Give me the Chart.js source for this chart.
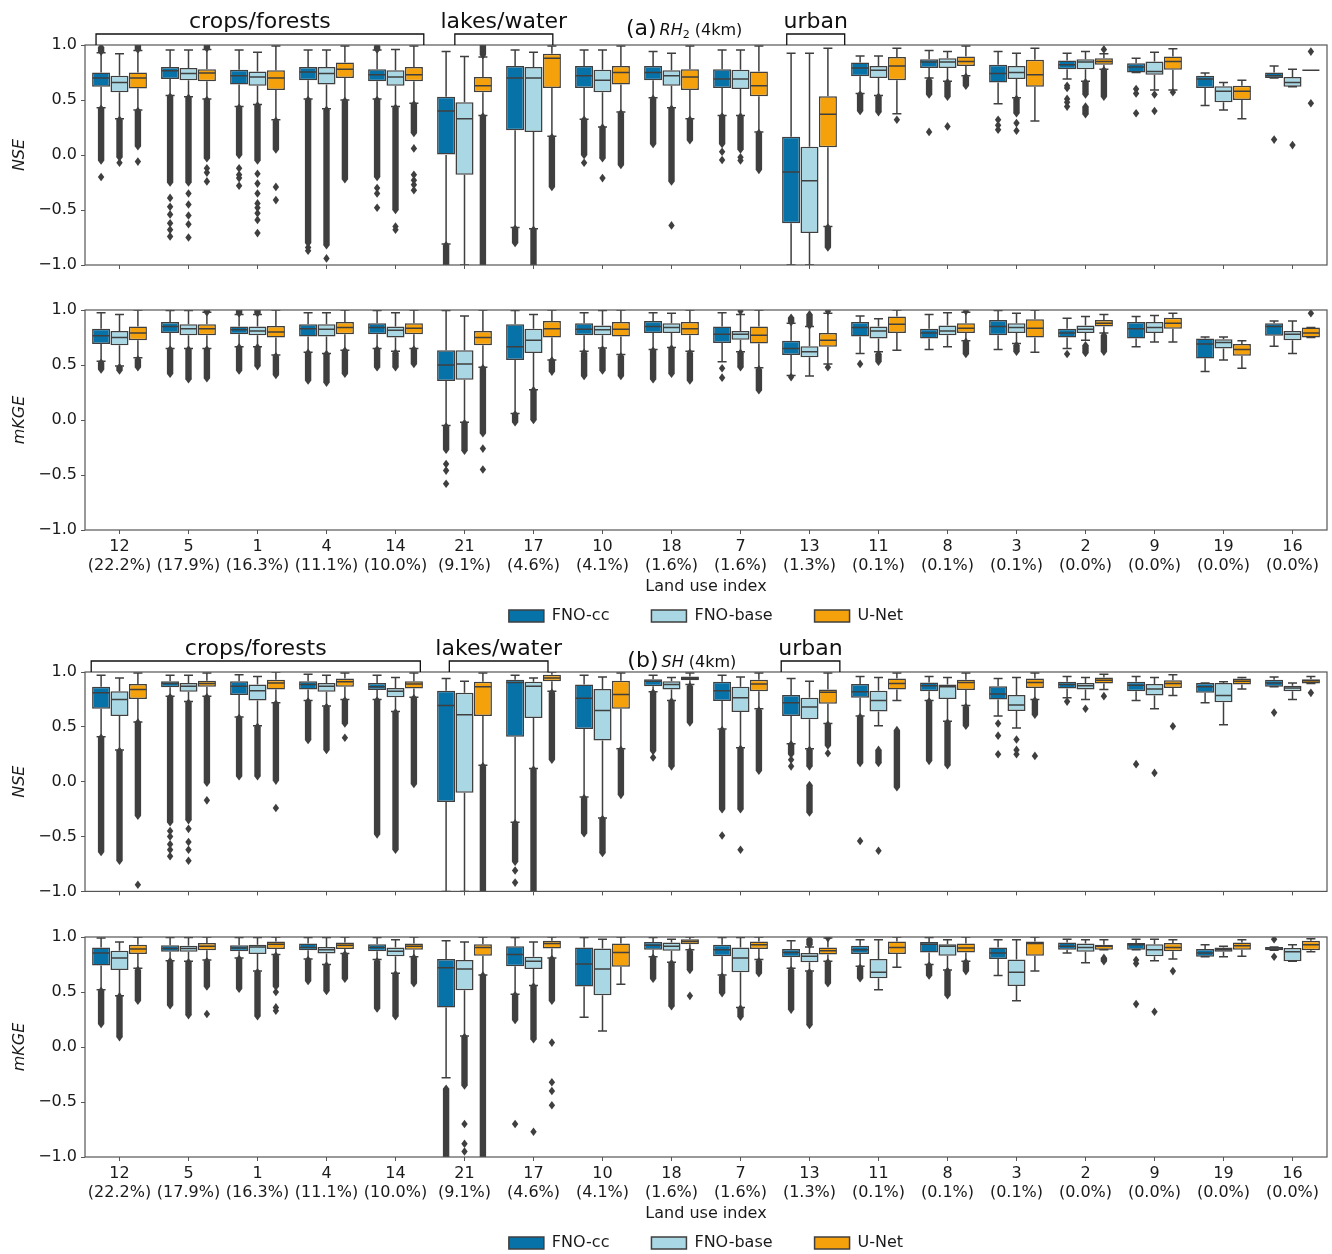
<!DOCTYPE html>
<html lang="en">
<head>
<meta charset="UTF-8">
<title>NSE and mKGE per land use class</title>
<style>
  html, body { margin: 0; padding: 0; background: #fff; overflow: hidden; }
  canvas { position: absolute; left: 0; }
</style>
</head>
<body>
<canvas id="rhNse" width="1332" height="280" style="top:0px"></canvas>
<canvas id="rhKge" width="1332" height="364" style="top:280px"></canvas>
<canvas id="shNse" width="1332" height="280" style="top:625px"></canvas>
<canvas id="shKge" width="1332" height="366" style="top:905px"></canvas>

<script src="https://cdn.jsdelivr.net/npm/chart.js"></script>
<script>
// land use classes, sorted by share of the domain
const landUse = ['12', '5', '1', '4', '14', '21', '17', '10', '18', '7', '13', '11', '8', '3', '2', '9', '19', '16'];
const landShare = ['22.2%', '17.9%', '16.3%', '11.1%', '10.0%', '9.1%', '4.6%', '4.1%', '1.6%', '1.6%', '1.3%', '0.1%', '0.1%', '0.1%', '0.0%', '0.0%', '0.0%', '0.0%'];
const models = ['FNO-cc', 'FNO-base', 'U-Net'];
const yTicks = [-1, -0.5, 0, 0.5, 1];

// box stats per class: [lower whisker, q1, median, q3, upper whisker]
// fliers per class: single values are one marker, [lo, hi] pairs are a dense run of markers

// (a) RH2, NSE
const rhNseCc = [
  [0.43, 0.62, 0.70, 0.75, 0.93], [0.54, 0.69, 0.765, 0.80, 0.955], [0.44, 0.64, 0.72, 0.775, 0.955],
  [0.51, 0.68, 0.755, 0.80, 0.955], [0.51, 0.67, 0.73, 0.78, 0.955], [-0.81, 0.0, 0.40, 0.53, 0.94],
  [-0.66, 0.225, 0.70, 0.81, 0.955], [0.325, 0.61, 0.72, 0.81, 0.955], [0.52, 0.68, 0.75, 0.81, 0.94],
  [0.36, 0.61, 0.69, 0.78, 0.955], [-1.0, -0.62, -0.155, 0.165, 0.925], [0.56, 0.715, 0.79, 0.84, 0.90],
  [0.70, 0.79, 0.845, 0.87, 0.95], [0.465, 0.66, 0.74, 0.82, 0.94], [0.69, 0.78, 0.82, 0.86, 0.925],
  [0.75, 0.75, 0.80, 0.835, 0.88], [0.45, 0.61, 0.69, 0.72, 0.745], [0.70, 0.70, 0.72, 0.75, 0.81]
];
const rhNseCcOut = [
  [[-0.05, 0.42], -0.2, [0.94, 0.98]], [[-0.25, 0.53], -0.39, -0.47, -0.54, -0.62, -0.68, -0.74],
  [[0.0, 0.43], -0.12, -0.18, -0.21, -0.28], [[-0.8, 0.50], -0.84, -0.87],
  [[-0.2, 0.50], -0.30, -0.35, -0.48, [0.96, 0.99]], [[-1.0, -0.82]], [[-0.80, -0.67]],
  [[0.0, 0.32], -0.07], [[0.1, 0.51]], [[0.10, 0.35], 0.03, -0.045], [], [[0.40, 0.55]],
  [[0.55, 0.68], 0.21], [0.32, 0.27, 0.23], [0.63, 0.61, 0.51, 0.48, 0.44], [0.60, 0.56, 0.38], [], [0.14]
];
const rhNseBase = [
  [0.33, 0.57, 0.66, 0.72, 0.92], [0.53, 0.68, 0.74, 0.79, 0.955], [0.46, 0.63, 0.71, 0.76, 0.935],
  [0.42, 0.64, 0.74, 0.80, 0.955], [0.44, 0.63, 0.71, 0.77, 0.96], [-1.0, -0.18, 0.33, 0.48, 0.895],
  [-0.67, 0.21, 0.70, 0.80, 0.935], [0.255, 0.57, 0.68, 0.775, 0.955], [0.43, 0.63, 0.72, 0.77, 0.925],
  [0.36, 0.60, 0.69, 0.775, 0.955], [-1.0, -0.71, -0.235, 0.075, 0.925], [0.54, 0.70, 0.77, 0.81, 0.90],
  [0.67, 0.79, 0.845, 0.88, 0.94], [0.52, 0.69, 0.75, 0.81, 0.925], [0.67, 0.78, 0.845, 0.87, 0.94],
  [0.59, 0.73, 0.76, 0.85, 0.935], [0.41, 0.48, 0.58, 0.625, 0.66], [0.62, 0.62, 0.66, 0.71, 0.78]
];
const rhNseBaseOut = [
  [[-0.02, 0.32], -0.07], [[-0.25, 0.52], -0.35, -0.45, -0.55, -0.63, -0.75],
  [[-0.05, 0.45], -0.17, -0.26, -0.35, -0.44, -0.48, -0.53, -0.59, -0.71], [[-0.82, 0.41], -0.94],
  [[-0.50, 0.43], -0.65, -0.68], [], [[-1.0, -0.68]], [[-0.03, 0.25], -0.21], [[-0.24, 0.42], -0.64],
  [[0.05, 0.35], -0.02, -0.05], [], [[0.39, 0.53]], [[0.53, 0.66], 0.26], [[0.38, 0.51], 0.29, 0.22],
  [[0.55, 0.66], [0.37, 0.44]], [0.55, 0.40], [], [0.09]
];
const rhNseUnet = [
  [0.41, 0.605, 0.70, 0.75, 0.95], [0.51, 0.67, 0.745, 0.78, 0.96], [0.32, 0.59, 0.70, 0.77, 0.99],
  [0.50, 0.70, 0.78, 0.84, 0.99], [0.47, 0.67, 0.73, 0.80, 0.99], [0.36, 0.57, 0.63, 0.71, 0.89],
  [0.17, 0.61, 0.88, 0.92, 0.99], [0.39, 0.64, 0.75, 0.81, 0.99], [0.33, 0.59, 0.71, 0.78, 0.99],
  [0.21, 0.535, 0.63, 0.76, 0.99], [-0.65, 0.07, 0.37, 0.535, 0.97], [0.375, 0.68, 0.81, 0.89, 0.97],
  [0.72, 0.81, 0.85, 0.895, 0.99], [0.31, 0.62, 0.73, 0.865, 0.97], [0.78, 0.82, 0.85, 0.88, 0.92],
  [0.59, 0.775, 0.85, 0.895, 0.965], [0.33, 0.50, 0.58, 0.63, 0.68], [0.77, 0.77, 0.77, 0.77, 0.77]
];
const rhNseUnetOut = [
  [[0.08, 0.40], -0.06, [0.96, 1.0]], [[-0.03, 0.50], -0.12, -0.16, -0.24, [0.97, 1.0]],
  [[0.05, 0.31], -0.29, -0.41], [[-0.22, 0.49]], [[0.2, 0.46], 0.06, -0.18, -0.23, -0.27, -0.32],
  [[-1.0, 0.35], [0.91, 1.0]], [[-0.29, 0.16]], [[-0.09, 0.38]], [[0.135, 0.32]], [[-0.135, 0.20]],
  [[-0.84, -0.66]], [0.32], [[0.63, 0.71]], [], [[0.53, 0.77], 0.96], [0.57], [], [0.94, 0.47]
];

// (a) RH2, mKGE
const rhKgeCc = [
  [0.535, 0.69, 0.765, 0.83, 0.975], [0.65, 0.79, 0.85, 0.89, 0.995], [0.665, 0.78, 0.82, 0.85, 0.96],
  [0.615, 0.76, 0.83, 0.87, 0.975], [0.65, 0.78, 0.84, 0.88, 0.995], [-0.05, 0.355, 0.50, 0.635, 0.995],
  [0.06, 0.545, 0.665, 0.87, 0.995], [0.625, 0.77, 0.825, 0.88, 0.975], [0.64, 0.79, 0.85, 0.90, 0.975],
  [0.53, 0.70, 0.78, 0.85, 0.975], [0.405, 0.59, 0.65, 0.72, 0.88], [0.605, 0.76, 0.84, 0.89, 0.945],
  [0.64, 0.74, 0.79, 0.83, 0.96], [0.64, 0.77, 0.85, 0.91, 0.995], [0.65, 0.75, 0.79, 0.83, 0.925],
  [0.665, 0.74, 0.83, 0.89, 0.94], [0.44, 0.56, 0.69, 0.74, 0.755], [0.67, 0.765, 0.85, 0.88, 0.90]
];
const rhKgeCcOut = [
  [[0.46, 0.52]], [[0.42, 0.64]], [[0.45, 0.66], [0.97, 1.0]], [[0.36, 0.61]], [[0.48, 0.64]],
  [[-0.27, -0.06], -0.40, -0.46, -0.58], [[-0.02, 0.05]], [[0.40, 0.61]], [[0.37, 0.63]], [0.47, 0.385],
  [0.39, [0.89, 0.93]], [0.51], [], [], [0.60], [], [], []
];
const rhKgeBase = [
  [0.49, 0.68, 0.75, 0.81, 0.96], [0.65, 0.77, 0.83, 0.87, 0.995], [0.665, 0.77, 0.81, 0.85, 0.96],
  [0.605, 0.76, 0.825, 0.87, 0.975], [0.625, 0.75, 0.815, 0.85, 0.975], [-0.02, 0.365, 0.51, 0.635, 0.945],
  [0.275, 0.61, 0.725, 0.83, 0.96], [0.655, 0.77, 0.82, 0.86, 0.995], [0.66, 0.79, 0.84, 0.88, 0.97],
  [0.62, 0.73, 0.78, 0.81, 0.96], [0.40, 0.57, 0.62, 0.67, 0.85], [0.62, 0.74, 0.81, 0.85, 0.92],
  [0.665, 0.77, 0.81, 0.86, 0.975], [0.695, 0.79, 0.84, 0.88, 0.97], [0.725, 0.79, 0.825, 0.86, 0.94],
  [0.71, 0.79, 0.84, 0.89, 0.95], [0.545, 0.65, 0.705, 0.735, 0.755], [0.605, 0.725, 0.78, 0.81, 0.90]
];
const rhKgeBaseOut = [
  [[0.45, 0.48]], [[0.37, 0.64]], [[0.49, 0.66], [0.97, 1.0]], [[0.34, 0.60]], [[0.48, 0.61]],
  [[-0.28, -0.03]], [[0.0, 0.27]], [[0.45, 0.64]], [[0.42, 0.65]], [[0.48, 0.61], 0.99], [[0.86, 0.96]],
  [[0.53, 0.60]], [], [[0.62, 0.68]], [[0.61, 0.68]], [], [], []
];
const rhKgeUnet = [
  [0.565, 0.725, 0.79, 0.85, 1.0], [0.65, 0.77, 0.83, 0.87, 0.98], [0.59, 0.75, 0.80, 0.855, 1.0],
  [0.635, 0.78, 0.84, 0.89, 1.0], [0.65, 0.78, 0.835, 0.88, 1.0], [0.48, 0.68, 0.75, 0.81, 1.0],
  [0.545, 0.75, 0.83, 0.90, 1.0], [0.595, 0.76, 0.825, 0.89, 1.0], [0.625, 0.77, 0.83, 0.89, 1.0],
  [0.475, 0.695, 0.77, 0.85, 1.0], [0.51, 0.665, 0.725, 0.79, 0.97], [0.635, 0.79, 0.87, 0.94, 1.0],
  [0.72, 0.79, 0.835, 0.88, 0.98], [0.615, 0.75, 0.835, 0.915, 1.0], [0.79, 0.85, 0.88, 0.91, 0.96],
  [0.71, 0.83, 0.88, 0.93, 0.97], [0.47, 0.585, 0.64, 0.69, 0.72], [0.75, 0.75, 0.79, 0.84, 0.84]
];
const rhKgeUnetOut = [
  [[0.48, 0.55]], [[0.38, 0.64], [0.98, 1.0]], [[0.41, 0.58]], [[0.42, 0.63]], [[0.51, 0.64]],
  [[-0.12, 0.47], -0.26, -0.45], [[0.44, 0.54]], [[0.40, 0.58]], [[0.36, 0.61]], [[0.27, 0.46]],
  [0.48, 0.99], [], [[0.60, 0.71], 0.99], [], [[0.62, 0.77]], [], [], [0.97]
];

// (b) SH, NSE
const shNseCc = [
  [0.41, 0.665, 0.81, 0.865, 0.97], [0.78, 0.86, 0.895, 0.915, 0.97], [0.59, 0.79, 0.87, 0.915, 0.975],
  [0.74, 0.84, 0.885, 0.915, 0.98], [0.75, 0.835, 0.865, 0.90, 0.97], [-1.0, -0.185, 0.695, 0.83, 0.94],
  [-0.37, 0.41, 0.905, 0.93, 0.97], [-0.14, 0.48, 0.76, 0.885, 0.97], [0.82, 0.87, 0.915, 0.935, 0.97],
  [0.48, 0.735, 0.83, 0.91, 0.97], [0.345, 0.60, 0.72, 0.79, 0.94], [0.60, 0.765, 0.82, 0.89, 0.96],
  [0.74, 0.825, 0.875, 0.905, 0.96], [0.60, 0.75, 0.80, 0.87, 0.94], [0.765, 0.85, 0.885, 0.91, 0.96],
  [0.74, 0.825, 0.88, 0.91, 0.96], [0.72, 0.81, 0.865, 0.90, 0.90], [0.865, 0.865, 0.90, 0.93, 0.955]
];
const shNseCcOut = [
  [[-0.64, 0.40]], [[-0.37, 0.77], -0.45, -0.50, -0.57, -0.62, -0.68], [[0.05, 0.58]], [[0.38, 0.73]],
  [[-0.48, 0.74]], [], [[-0.73, -0.38], -0.81, -0.92], [[-0.47, -0.15]], [[0.28, 0.81], 0.22],
  [[-0.25, 0.47], -0.49], [[0.25, 0.34], 0.20, 0.14], [[0.17, 0.59], -0.54], [[0.19, 0.73]],
  [0.53, 0.42, 0.25], [0.73], [0.16], [], [0.63]
];
const shNseBase = [
  [0.29, 0.60, 0.75, 0.825, 0.945], [0.73, 0.82, 0.87, 0.90, 0.97], [0.51, 0.74, 0.83, 0.885, 0.96],
  [0.69, 0.82, 0.87, 0.90, 0.97], [0.64, 0.77, 0.825, 0.855, 0.95], [-1.0, -0.10, 0.61, 0.81, 0.915],
  [0.12, 0.58, 0.87, 0.91, 0.945], [-0.33, 0.375, 0.65, 0.845, 0.955], [0.74, 0.84, 0.885, 0.915, 0.95],
  [0.31, 0.635, 0.765, 0.865, 0.955], [0.30, 0.57, 0.68, 0.765, 0.915], [0.51, 0.64, 0.74, 0.83, 0.95],
  [0.55, 0.755, 0.865, 0.885, 0.95], [0.49, 0.645, 0.70, 0.79, 0.95], [0.75, 0.84, 0.875, 0.90, 0.95],
  [0.665, 0.785, 0.845, 0.89, 0.95], [0.52, 0.725, 0.785, 0.90, 0.91], [0.75, 0.825, 0.855, 0.875, 0.90]
];
const shNseBaseOut = [
  [[-0.72, 0.28]], [[-0.35, 0.72], -0.43, -0.55, -0.62, -0.72], [[0.05, 0.50]], [[0.29, 0.68]],
  [[-0.62, 0.63]], [], [[-1.0, 0.11]], [[-0.65, -0.34]], [[0.14, 0.73]], [[-0.25, 0.30], -0.62],
  [[0.14, 0.29], [-0.28, -0.03]], [[0.17, 0.29], -0.63], [[0.15, 0.54]], [0.385, 0.29, 0.25],
  [0.665], [0.08], [], []
];
const shNseUnet = [
  [0.545, 0.755, 0.84, 0.89, 0.99], [0.78, 0.865, 0.895, 0.92, 0.99], [0.72, 0.84, 0.90, 0.93, 1.0],
  [0.75, 0.865, 0.91, 0.94, 0.99], [0.77, 0.85, 0.89, 0.915, 0.99], [0.15, 0.60, 0.865, 0.91, 0.99],
  [0.825, 0.915, 0.945, 0.975, 1.0], [0.30, 0.665, 0.795, 0.92, 0.99], [0.885, 0.925, 0.94, 0.96, 0.99],
  [0.665, 0.825, 0.89, 0.93, 0.99], [0.53, 0.71, 0.815, 0.84, 0.99], [0.74, 0.84, 0.895, 0.94, 0.99],
  [0.695, 0.835, 0.905, 0.93, 0.99], [0.75, 0.855, 0.905, 0.94, 0.99], [0.84, 0.895, 0.925, 0.95, 0.98],
  [0.785, 0.855, 0.895, 0.925, 0.975], [0.845, 0.885, 0.915, 0.94, 0.95], [0.895, 0.895, 0.92, 0.935, 0.96]
];
const shNseUnetOut = [
  [[-0.31, 0.54], -0.94], [[-0.01, 0.77], -0.17], [[0.01, 0.71], -0.24], [[0.53, 0.74], 0.40],
  [[-0.02, 0.76]], [[-1.0, 0.14]], [[0.20, 0.81]], [[-0.12, 0.29]], [[0.54, 0.87]], [[0.10, 0.65]],
  [[0.33, 0.52], 0.26], [[-0.05, 0.47]], [[0.51, 0.68]], [[0.61, 0.74], 0.235], [0.78], [0.505], [], [0.81]
];

// (b) SH, mKGE
const shKgeCc = [
  [0.52, 0.74, 0.855, 0.905, 0.99], [0.785, 0.865, 0.895, 0.925, 0.995], [0.81, 0.87, 0.90, 0.925, 0.995],
  [0.80, 0.88, 0.905, 0.94, 0.995], [0.795, 0.87, 0.905, 0.935, 0.995], [-0.28, 0.36, 0.72, 0.80, 0.965],
  [0.48, 0.735, 0.84, 0.915, 0.995], [0.27, 0.55, 0.755, 0.905, 0.995], [0.82, 0.885, 0.925, 0.955, 0.995],
  [0.655, 0.825, 0.885, 0.93, 0.995], [0.715, 0.815, 0.86, 0.89, 0.965], [0.735, 0.845, 0.885, 0.92, 0.975],
  [0.75, 0.86, 0.935, 0.955, 0.995], [0.65, 0.80, 0.855, 0.905, 0.975], [0.855, 0.885, 0.915, 0.95, 0.98],
  [0.885, 0.885, 0.93, 0.945, 0.98], [0.82, 0.82, 0.855, 0.89, 0.93], [0.88, 0.88, 0.90, 0.91, 0.91]
];
const shKgeCcOut = [
  [[0.21, 0.51]], [[0.38, 0.78]], [[0.53, 0.80]], [[0.60, 0.79]], [[0.35, 0.78]], [[-1.0, -0.38]],
  [[0.245, 0.47], -0.70], [], [[0.62, 0.81]], [[0.49, 0.64]], [[0.34, 0.70]], [[0.625, 0.72]],
  [[0.65, 0.74]], [], [], [0.79, 0.76, 0.39], [], [0.98, 0.82]
];
const shKgeBase = [
  [0.465, 0.70, 0.81, 0.875, 0.955], [0.78, 0.865, 0.895, 0.92, 0.995], [0.69, 0.845, 0.91, 0.93, 0.995],
  [0.75, 0.85, 0.885, 0.91, 0.995], [0.67, 0.825, 0.87, 0.905, 0.975], [0.10, 0.515, 0.71, 0.79, 0.955],
  [0.56, 0.71, 0.78, 0.82, 0.955], [0.145, 0.47, 0.71, 0.895, 0.98], [0.77, 0.875, 0.915, 0.95, 0.98],
  [0.36, 0.68, 0.81, 0.905, 0.995], [0.69, 0.77, 0.825, 0.855, 0.91], [0.52, 0.625, 0.68, 0.80, 0.975],
  [0.70, 0.83, 0.915, 0.935, 0.975], [0.42, 0.555, 0.68, 0.795, 0.975], [0.765, 0.865, 0.905, 0.94, 0.975],
  [0.785, 0.825, 0.885, 0.935, 0.98], [0.82, 0.865, 0.885, 0.905, 0.915], [0.78, 0.78, 0.865, 0.90, 0.93]
];
const shKgeBaseOut = [
  [[0.09, 0.46]], [[0.29, 0.77]], [[0.28, 0.68]], [[0.51, 0.74]], [[0.28, 0.66]],
  [[-0.35, 0.09], -0.70, -0.88, -0.95], [[0.07, 0.55], -0.77], [], [[0.37, 0.76]], [[0.275, 0.35]],
  [[0.20, 0.68], [0.93, 0.98]], [], [[0.47, 0.69]], [], [], [0.32], [], []
];
const shKgeUnet = [
  [0.715, 0.845, 0.89, 0.93, 1.0], [0.79, 0.88, 0.915, 0.945, 1.0], [0.84, 0.89, 0.935, 0.96, 1.0],
  [0.85, 0.89, 0.925, 0.95, 1.0], [0.82, 0.885, 0.915, 0.94, 1.0], [0.655, 0.83, 0.905, 0.935, 1.0],
  [0.81, 0.895, 0.94, 0.965, 1.0], [0.57, 0.73, 0.86, 0.94, 1.0], [0.885, 0.935, 0.96, 0.98, 1.0],
  [0.795, 0.89, 0.93, 0.96, 1.0], [0.78, 0.84, 0.875, 0.905, 0.99], [0.725, 0.845, 0.905, 0.96, 1.0],
  [0.78, 0.86, 0.90, 0.94, 1.0], [0.69, 0.83, 0.94, 0.96, 1.0], [0.885, 0.885, 0.915, 0.93, 0.975],
  [0.80, 0.87, 0.905, 0.945, 0.975], [0.825, 0.885, 0.92, 0.95, 0.975], [0.865, 0.88, 0.93, 0.965, 0.985]
];
const shKgeUnetOut = [
  [[0.42, 0.70]], [[0.55, 0.78], 0.30], [[0.55, 0.83], 0.50, 0.36, 0.33], [[0.62, 0.84]], [[0.58, 0.81]],
  [[-1.0, 0.65]], [[0.42, 0.80], 0.04, -0.32, -0.40, -0.53], [], [[0.70, 0.87], 0.465], [[0.67, 0.78]],
  [[0.58, 0.77], 0.99], [], [[0.69, 0.77]], [], [[0.78, 0.81]], [0.69], [], []
];

const fills = ['#0672a8', '#a9d7e3', '#f4a10b'];
const edge = '#3f3f3f';
const ink = '#1a1a1a';

Chart.defaults.font.family = '"DejaVu Sans", sans-serif';
Chart.defaults.font.size = 16;
Chart.defaults.color = ink;

// whiskers, caps, medians and fliers on top of the floating bars
const boxParts = {
  id: 'boxParts',
  afterDatasetsDraw(chart) {
    const { ctx, chartArea: a, scales: { y } } = chart;
    const py = v => y.getPixelForValue(v);
    const diamond = (x, yy) => {
      ctx.beginPath();
      ctx.moveTo(x, yy - 4.3);
      ctx.lineTo(x + 3.2, yy);
      ctx.lineTo(x, yy + 4.3);
      ctx.lineTo(x - 3.2, yy);
      ctx.closePath();
      ctx.fill();
    };
    ctx.save();
    ctx.beginPath();
    ctx.rect(a.left, a.top, a.right - a.left, a.bottom - a.top);
    ctx.clip();
    ctx.strokeStyle = edge;
    ctx.fillStyle = edge;
    ctx.lineWidth = 1.5;
    chart.data.datasets.forEach((ds, i) => {
      chart.getDatasetMeta(i).data.forEach((bar, j) => {
        const [lo, q1, med, q3, hi] = ds.stats[j];
        const x = bar.x, half = bar.width / 2, cap = bar.width / 4;
        ctx.beginPath();
        ctx.moveTo(x, py(q3)); ctx.lineTo(x, py(hi));
        ctx.moveTo(x - cap, py(hi)); ctx.lineTo(x + cap, py(hi));
        ctx.moveTo(x, py(q1)); ctx.lineTo(x, py(lo));
        ctx.moveTo(x - cap, py(lo)); ctx.lineTo(x + cap, py(lo));
        ctx.moveTo(x - half + 0.5, py(med)); ctx.lineTo(x + half - 0.5, py(med));
        ctx.stroke();
        ds.fliers[j].forEach(f => {
          if (Array.isArray(f)) {
            const top = py(f[1]), bottom = py(f[0]);
            ctx.fillRect(x - 3.2, top, 6.4, bottom - top);
            diamond(x, top);
            diamond(x, bottom);
          } else {
            diamond(x, py(f));
          }
        });
      });
    });
    ctx.restore();
    // axes frame
    ctx.save();
    ctx.strokeStyle = '#555';
    ctx.lineWidth = 1.2;
    ctx.strokeRect(a.left, a.top, a.right - a.left, a.bottom - a.top);
    ctx.restore();
  }
};

// legend centred under the plot area and pulled up just below the tick labels
const centerLegend = {
  id: 'centerLegend',
  afterLayout(chart) {
    const lg = chart.legend;
    if (!lg || !lg.options.display) return;
    const dx = (chart.chartArea.left + chart.chartArea.right) / 2 - (lg.left + lg.right) / 2;
    const dy = chart.chartArea.bottom + 36 - lg.top;
    lg.left += dx;
    lg.right += dx;
    lg.top += dy;
    lg.bottom += dy;
  }
};

// group brackets and panel tag above an NSE panel
function groupMarks(spec) {
  return {
    id: 'groupMarks',
    afterDraw(chart) {
      const { ctx, chartArea: a, scales: { x } } = chart;
      ctx.save();
      ctx.strokeStyle = '#111';
      ctx.fillStyle = '#111';
      ctx.lineWidth = 1.3;
      ctx.textAlign = 'center';
      ctx.textBaseline = 'alphabetic';
      ctx.font = '22px "DejaVu Sans"';
      spec.groups.forEach(g => {
        const x0 = x.getPixelForValue(g.from), x1 = x.getPixelForValue(g.to);
        const yb = a.top - 11;
        ctx.beginPath();
        ctx.moveTo(x0, a.top); ctx.lineTo(x0, yb); ctx.lineTo(x1, yb); ctx.lineTo(x1, a.top);
        ctx.stroke();
        ctx.fillText(g.label, (x0 + x1) / 2, a.top - 17);
      });
      // "(a) RH2 (4km)" style tag
      ctx.textAlign = 'left';
      let cx = x.getPixelForValue(spec.tagAt);
      const by = a.top - spec.tagRise;
      ctx.font = '22px "DejaVu Sans"';
      ctx.fillText(spec.tag, cx, by);
      cx += ctx.measureText(spec.tag).width + 3;
      ctx.font = 'italic 16px "DejaVu Sans"';
      ctx.fillText(spec.variable, cx, by);
      cx += ctx.measureText(spec.variable).width;
      if (spec.sub) {
        ctx.font = '11px "DejaVu Sans"';
        ctx.fillText(spec.sub, cx, by + 3);
        cx += ctx.measureText(spec.sub).width;
      }
      ctx.font = '16px "DejaVu Sans"';
      ctx.fillText(' (4km)', cx, by);
      ctx.restore();
    }
  };
}

function makePanel(id, series, opt) {
  const datasets = series.map((s, k) => ({
    label: models[k],
    data: s.stats.map(b => [b[1], b[3]]),
    stats: s.stats,
    fliers: s.fliers,
    backgroundColor: fills[k],
    borderColor: edge,
    borderWidth: 1.5,
    borderSkipped: false,
    categoryPercentage: 0.8,
    barPercentage: 0.98
  }));
  const plugins = [boxParts, centerLegend];
  if (opt.marks) plugins.push(groupMarks(opt.marks));
  new Chart(document.getElementById(id), {
    type: 'bar',
    data: { labels: landUse.map((c, i) => [c, '(' + landShare[i] + ')']), datasets },
    plugins,
    options: {
      responsive: false,
      animation: false,
      layout: { padding: { top: opt.padTop, bottom: opt.padBottom, left: 0, right: 5 } },
      plugins: {
        tooltip: { enabled: false },
        legend: {
          display: opt.bottom,
          position: 'bottom',
          labels: { boxWidth: 35, boxHeight: 12, padding: 42, color: ink, font: { size: 16 } }
        }
      },
      scales: {
        x: {
          grid: { display: true, drawOnChartArea: false, offset: false, tickLength: 4, color: '#555' },
          border: { display: false },
          ticks: { display: opt.bottom, autoSkip: false, maxRotation: 0, padding: 3, color: ink, font: { size: 16 } },
          title: { display: opt.bottom, text: 'Land use index', color: ink, font: { size: 16 }, padding: { top: 0, bottom: -20.6 } },
          afterFit(s) { s.height = opt.bottom ? 46 : 8; }
        },
        y: {
          min: -1,
          max: 1,
          grid: { display: true, drawOnChartArea: false, tickLength: 4, color: '#555' },
          border: { display: false },
          afterBuildTicks(s) { s.ticks = yTicks.map(v => ({ value: v })); },
          ticks: { padding: 4, color: ink, font: { size: 16 }, callback: v => v.toFixed(1).replace('-', '\u2212') },
          title: { display: true, text: opt.yTitle, color: ink, font: { size: 16, style: 'italic' }, padding: { top: 10.4, bottom: 0 } },
          afterFit(s) { s.width = 85; }
        }
      }
    }
  });
}

makePanel('rhNse', [
  { stats: rhNseCc, fliers: rhNseCcOut },
  { stats: rhNseBase, fliers: rhNseBaseOut },
  { stats: rhNseUnet, fliers: rhNseUnetOut }
], {
  yTitle: 'NSE', bottom: false, padTop: 45, padBottom: 7,
  marks: {
    groups: [
      { label: 'crops/forests', from: -0.34, to: 4.41 },
      { label: 'lakes/water', from: 4.86, to: 6.28 },
      { label: 'urban', from: 9.67, to: 10.51 }
    ],
    tag: '(a)', variable: 'RH', sub: '2', tagAt: 7.34, tagRise: 10
  }
});

makePanel('rhKge', [
  { stats: rhKgeCc, fliers: rhKgeCcOut },
  { stats: rhKgeBase, fliers: rhKgeBaseOut },
  { stats: rhKgeUnet, fliers: rhKgeUnetOut }
], { yTitle: 'mKGE', bottom: true, padTop: 30, padBottom: 0 });

makePanel('shNse', [
  { stats: shNseCc, fliers: shNseCcOut },
  { stats: shNseBase, fliers: shNseBaseOut },
  { stats: shNseUnet, fliers: shNseUnetOut }
], {
  yTitle: 'NSE', bottom: false, padTop: 47, padBottom: 5,
  marks: {
    groups: [
      { label: 'crops/forests', from: -0.41, to: 4.36 },
      { label: 'lakes/water', from: 4.78, to: 6.21 },
      { label: 'urban', from: 9.59, to: 10.44 }
    ],
    tag: '(b)', variable: 'SH', sub: '', tagAt: 7.36, tagRise: 5
  }
});

makePanel('shKge', [
  { stats: shKgeCc, fliers: shKgeCcOut },
  { stats: shKgeBase, fliers: shKgeBaseOut },
  { stats: shKgeUnet, fliers: shKgeUnetOut }
], { yTitle: 'mKGE', bottom: true, padTop: 32, padBottom: 0 });
</script>
</body>
</html>
